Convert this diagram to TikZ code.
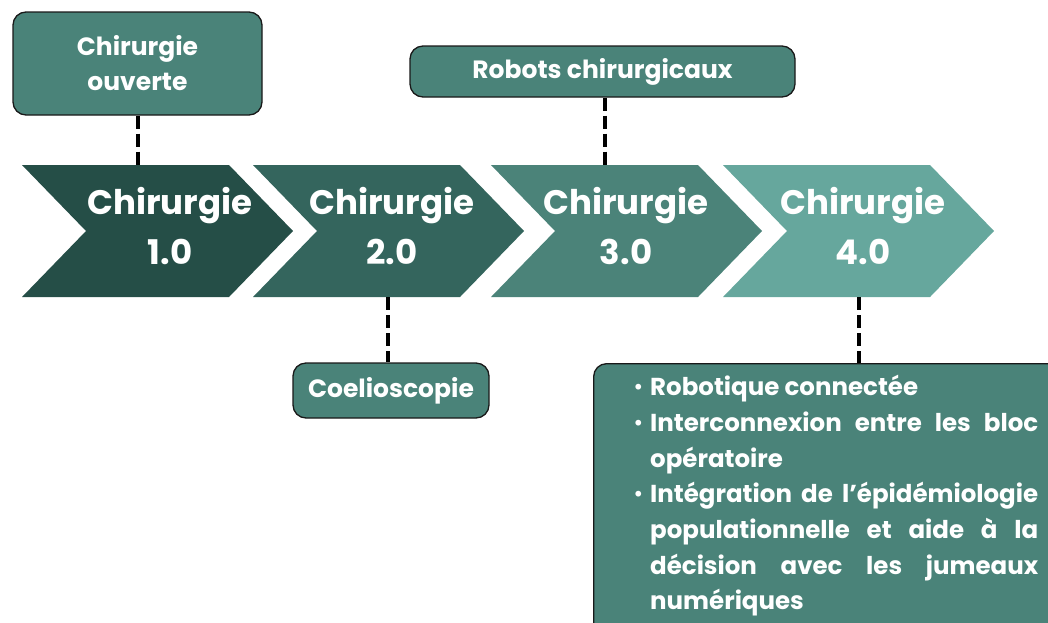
\documentclass[tikz,border=0pt]{standalone}
\usepackage{fontspec}
\setmainfont{Poppins}
\definecolor{cA}{HTML}{254E47}
\definecolor{cB}{HTML}{34655D}
\definecolor{cC}{HTML}{4B8379}
\definecolor{cD}{HTML}{66A79D}
\definecolor{boxc}{HTML}{4A8379}
\newcommand\mybul{\leavevmode\llap{\raisebox{2pt}{\fontsize{19}{19}\selectfont•}\hspace{7pt}}}
\begin{document}
\begin{tikzpicture}[x=1pt,y=-1pt,
  box/.style={draw=black!90, line width=1.3pt, fill=boxc, rounded corners=13pt, text=white, font=\bfseries\fontsize{25}{35}\selectfont, align=center, inner sep=0pt},
  chevtext/.style={text=white, font=\bfseries\fontsize{34}{50}\selectfont, align=center, inner sep=0pt},
  conn/.style={line width=3.6pt, dash pattern=on 13pt off 5pt, black}]
\useasboundingbox (0,0) rectangle (1048,622);
% chevrons
\foreach \L/\col in {22/cA,253/cB,491/cC,723/cD}{
  \fill[\col] (\L,165) -- ({\L+207},165) -- ({\L+271},231) -- ({\L+207},297) -- (\L,297) -- ({\L+64},231) -- cycle;
}
\node[chevtext] (c1) at (170,226) {Chirurgie\\1.0};
\node[chevtext] (c2) at (392,226) {Chirurgie\\2.0};
\node[chevtext] (c3) at (626,226) {Chirurgie\\3.0};
\node[chevtext] (c4) at (863,226) {Chirurgie\\4.0};
\coordinate (c1top) at (138,165);
\coordinate (c2bot) at (388,297);
\coordinate (c3top) at (605,165);
\coordinate (c4bot) at (859,297);
% boxes
\node[box, minimum width=249pt, minimum height=103pt] (b1) at (137.5,63.5) {Chirurgie\\ouverte};
\node[box, minimum width=385pt, minimum height=51pt] (b3) at (602.5,71.5) {Robots chirurgicaux};
\node[box, minimum width=196pt, minimum height=55pt] (b2) at (391,390.5) {\raisebox{2pt}{Coelioscopie}};
\begin{scope}
\clip (0,0) rectangle (1048,622);
\node[box, anchor=north west, minimum width=490pt, minimum height=300pt] (b4) at (593,363) {};
\end{scope}
\node[anchor=north west, text width=388pt, align=justify, inner sep=0pt, text=white,
  font=\bfseries\fontsize{24.5}{35.7}\selectfont] (t4) at (650,375) {%
\mybul Robotique connectée\par
\mybul Interconnexion entre les bloc\linebreak opératoire\par
\mybul Intégration de l’épidémiologie\linebreak populationnelle et aide à la\linebreak décision avec les jumeaux\linebreak numériques\par};
% connectors
\draw[conn] (b1.south -| c1top) -- (c1top);
\draw[conn] (b3.south -| c3top) -- (c3top);
\draw[conn] (c2bot) -- (b2.north -| c2bot);
\draw[conn] (c4bot) -- (b4.north -| c4bot);
\end{tikzpicture}
\end{document}
